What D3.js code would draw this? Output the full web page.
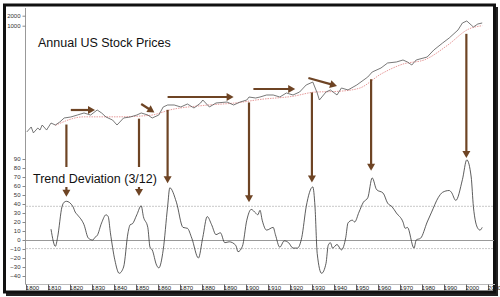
<!DOCTYPE html>
<html>
<head>
	<title>Annual US Stock Prices</title>
	<meta charset="utf-8">
	<script src="https://d3js.org/d3.v7.min.js"></script>
<style>
	body { margin: 0; background: #fff; }
	text { font-family: "Liberation Sans", Arial, sans-serif; }
</style>
</head>
<body>

<script>

// price (log scale) - year / index value
var priceYears = [1799,1801,1802,1804,1805,1806,1808,1810,1812,1814,1816,1819,1822,1825,1828,1831,1833,1835,1838,1840,1843,1846,1849,1851,1854,1856,1859,1861,1863,1866,1869,1872,1875,1878,1879,1882,1885,1890,1893,1896,1899,1900,1903,1905,1908,1911,1914,1917,1920,1923,1926,1929,1931,1932,1935,1937,1940,1942,1945,1949,1954,1956,1960,1963,1967,1970,1972,1974,1976,1981,1984,1988,1991,1995,1997,1999,2001,2002,2004,2006];
var priceValues = [0.63,0.89,0.59,0.83,0.72,1.02,0.72,1.17,1.02,1.26,1.66,1.78,2.04,2.35,2.04,2.89,2.35,1.78,1.44,1.02,1.66,1.78,2.04,2.35,2.04,1.66,2.04,3.56,4.09,4.09,3.56,4.38,3.32,4.70,5.78,3.56,4.70,5.03,4.09,5.03,5.78,7.12,6.64,7.12,8.18,8.18,7.12,9.40,8.18,10.07,16.4,20.1,9.40,5.78,10.07,11.6,8.18,13.3,11.6,16.4,28.5,40.3,53.2,75.3,80.7,92.7,80.7,65.5,92.7,114,185,301,426,742,1206,1386,1050,913,1125,1206];

// long term trend (red dotted)
var trendYears = [1812,1825,1840,1855,1865,1880,1895,1905,1920,1930,1940,1950,1960,1970,1980,1990,2000,2006];
var trendValues = [1.0,1.8,1.8,2.0,3.0,4.0,4.8,6.0,7.5,10,10.5,13,35,70,95,250,800,1000];

// trend deviation (3/12)
var devYears = [1810,1812,1813,1815,1816,1817,1820,1821,1822,1825,1827,1829,1830,1831,1833,1835,1836,1837,1839,1841,1843,1845,1846,1847,1849,1851,1852,1854,1855,1856,1858,1859,1861,1863,1864,1867,1870,1872,1874,1877,1879,1881,1883,1885,1887,1889,1891,1894,1895,1897,1899,1901,1903,1904,1905,1906,1908,1911,1912,1914,1916,1918,1920,1922,1924,1926,1929,1930,1931,1933,1935,1936,1937,1938,1940,1942,1944,1945,1947,1948,1950,1952,1954,1956,1958,1961,1963,1965,1967,1970,1971,1972,1975,1976,1978,1981,1983,1986,1988,1991,1992,1994,1997,1999,2001,2002,2004,2005,2006];
var devValues = [12,-7,3,37,42,43,37,31,28,17,2,0,3,5,19,28,26,8,-22,-37,-30,8,17,18,28,38,26,14,-8,-11,-28,-31,-11,37,58,42,14,13,2,-20,3,26,17,6,8,-3,-2,-6,-13,-7,22,34,30,28,33,22,11,14,6,-8,-1,-3,-9,-9,3,37,59,37,-15,-37,-26,-6,-3,-9,-5,-11,3,19,22,20,31,42,47,69,56,52,41,37,30,20,13,14,-9,0,2,20,31,47,53,55,53,44,67,89,70,37,13,11,14];

var devLevels = [38, 0, -9];
var priceTicks = [1000, 2000];
var devTicks = [90,80,70,60,50,40,30,20,10,0,-10,-20,-30,-40];
var decadeTicks = d3.range(1800, 2011, 10);

// arrows: [fromYear, fromY(px), toYear, toY(px)] - horizontal ones in price panel
var trendArrows = [[1819, 110, 1830, 110], [1851, 104, 1857, 112.5], [1863, 97, 1893, 97], [1902, 89, 1921, 89], [1927, 78, 1940, 86]];
// vertical arrows - year, price at start, deviation at tip
var peakYears = [1817, 1850, 1863, 1900, 1928.6, 1955.5, 1998.8];
var peakPrice = [1.3, 1.95, 3.6, 6.0, 12, 30, 700];
var peakDev = [48, 49, 63, 42, 64, 77, 91];

var width = 500,
    height = 297;

var brown = "#6e4424";

var x = d3.scaleLinear().domain([1800, 2010]).range([29, 491]);
var yPrice = d3.scaleLog().domain([0.5, 2000]).range([135.3, 15.7]);
var yDev = d3.scaleLinear().domain([-40, 90]).range([276, 159]);

var svg = d3.select("body").append("svg")
    .attr("width", width)
    .attr("height", height);

// frame with shadow
svg.append("rect")
    .attr("x", 6).attr("y", 7).attr("width", 492).attr("height", 289)
    .attr("fill", "#222");
svg.append("rect")
    .attr("x", 4.5).attr("y", 5).attr("width", 490).attr("height", 287)
    .attr("fill", "#fff").attr("stroke", "#111").attr("stroke-width", 3);

// left axis line
svg.append("line")
    .attr("x1", 25.5).attr("x2", 25.5).attr("y1", 8).attr("y2", 284)
    .attr("stroke", "#999").attr("stroke-width", 1);

// price axis
var priceAxis = svg.append("g")
    .attr("transform", "translate(25.5,0)")
    .call(d3.axisLeft(yPrice).tickValues(priceTicks).tickSize(3).tickFormat(d3.format("d")));
priceAxis.select(".domain").remove();
priceAxis.selectAll("line").attr("stroke", "#888");
priceAxis.selectAll("text").attr("font-size", 6).attr("fill", "#333").attr("dx", 1);

// deviation axis
var devAxis = svg.append("g")
    .attr("transform", "translate(25.5,0)")
    .call(d3.axisLeft(yDev).tickValues(devTicks).tickSize(3));
devAxis.select(".domain").remove();
devAxis.selectAll("line").attr("stroke", "#888");
devAxis.selectAll("text").attr("font-size", 6).attr("fill", "#333").attr("dx", 1);

// x axis
svg.append("line")
    .attr("x1", 25).attr("x2", 495).attr("y1", 284.5).attr("y2", 284.5)
    .attr("stroke", "#bbb");
var xAxis = svg.append("g")
    .attr("transform", "translate(0,284.5)")
    .call(d3.axisBottom(x).tickValues(decadeTicks).tickSize(6).tickFormat(d3.format("d")));
xAxis.select(".domain").remove();
xAxis.selectAll("line").attr("stroke", "#666").attr("transform", "translate(-3,0)");
xAxis.selectAll("text").attr("font-size", 6).attr("fill", "#222").attr("y", 1.5).attr("dx", 3);

// deviation reference levels
svg.selectAll(".level")
    .data(devLevels)
  .enter().append("line")
    .attr("class", "level")
    .attr("x1", 26).attr("x2", 494)
    .attr("y1", function(d) { return yDev(d) + 0.5; })
    .attr("y2", function(d) { return yDev(d) + 0.5; })
    .attr("stroke", function(d) { return d === 0 ? "#999" : "#c8c8c8"; })
    .attr("stroke-dasharray", function(d) { return d === 0 ? null : "2,1"; });

// trend line
var trendLine = d3.line()
    .x(function(d, i) { return x(trendYears[i]); })
    .y(function(d) { return yPrice(d); })
    .curve(d3.curveMonotoneX);
svg.append("path")
    .attr("d", trendLine(trendValues))
    .attr("fill", "none")
    .attr("stroke", "#e08080")
    .attr("stroke-width", 0.8)
    .attr("stroke-dasharray", "1.5,1");

// price line
var priceLine = d3.line()
    .x(function(d, i) { return x(priceYears[i]); })
    .y(function(d) { return yPrice(d); });
svg.append("path")
    .attr("d", priceLine(priceValues))
    .attr("fill", "none")
    .attr("stroke", "#555")
    .attr("stroke-width", 0.8);

// deviation line
var devLine = d3.line()
    .x(function(d, i) { return x(devYears[i]); })
    .y(function(d) { return yDev(d); })
    .curve(d3.curveMonotoneX);
svg.append("path")
    .attr("d", devLine(devValues))
    .attr("fill", "none")
    .attr("stroke", "#333")
    .attr("stroke-width", 0.8);

// arrow heads
function arrowHead(x1, y1, x2, y2, len, half) {
  var a = Math.atan2(y2 - y1, x2 - x1),
      bx = x2 - len * Math.cos(a),
      by = y2 - len * Math.sin(a);
  return "M" + x2 + "," + y2 +
    "L" + (bx + half * Math.sin(a)) + "," + (by - half * Math.cos(a)) +
    "L" + (bx - half * Math.sin(a)) + "," + (by + half * Math.cos(a)) + "Z";
}

function drawArrow(x1, y1, x2, y2) {
  var a = Math.atan2(y2 - y1, x2 - x1);
  svg.append("line")
      .attr("x1", x1).attr("y1", y1)
      .attr("x2", x2 - 5 * Math.cos(a)).attr("y2", y2 - 5 * Math.sin(a))
      .attr("stroke", brown).attr("stroke-width", 2.2);
  svg.append("path")
      .attr("d", arrowHead(x1, y1, x2, y2, 7, 4))
      .attr("fill", brown);
}

trendArrows.forEach(function(a) {
  drawArrow(x(a[0]), a[1], x(a[2]), a[3]);
});

peakYears.forEach(function(yr, i) {
  drawArrow(x(yr), yPrice(peakPrice[i]) + 3, x(yr), yDev(peakDev[i]));
});

// titles
svg.append("text")
    .attr("x", 38).attr("y", 47)
    .attr("font-size", 12.5).attr("fill", "#111")
    .text("Annual US Stock Prices");

// white band behind the second title cuts the arrow shafts like the original
svg.append("rect")
    .attr("x", 31).attr("y", 167).attr("width", 124).attr("height", 20)
    .attr("fill", "#fff");
svg.append("text")
    .attr("x", 33).attr("y", 183)
    .attr("font-size", 12.5).attr("fill", "#111")
    .text("Trend Deviation (3/12)");

</script>

</body>
</html>
